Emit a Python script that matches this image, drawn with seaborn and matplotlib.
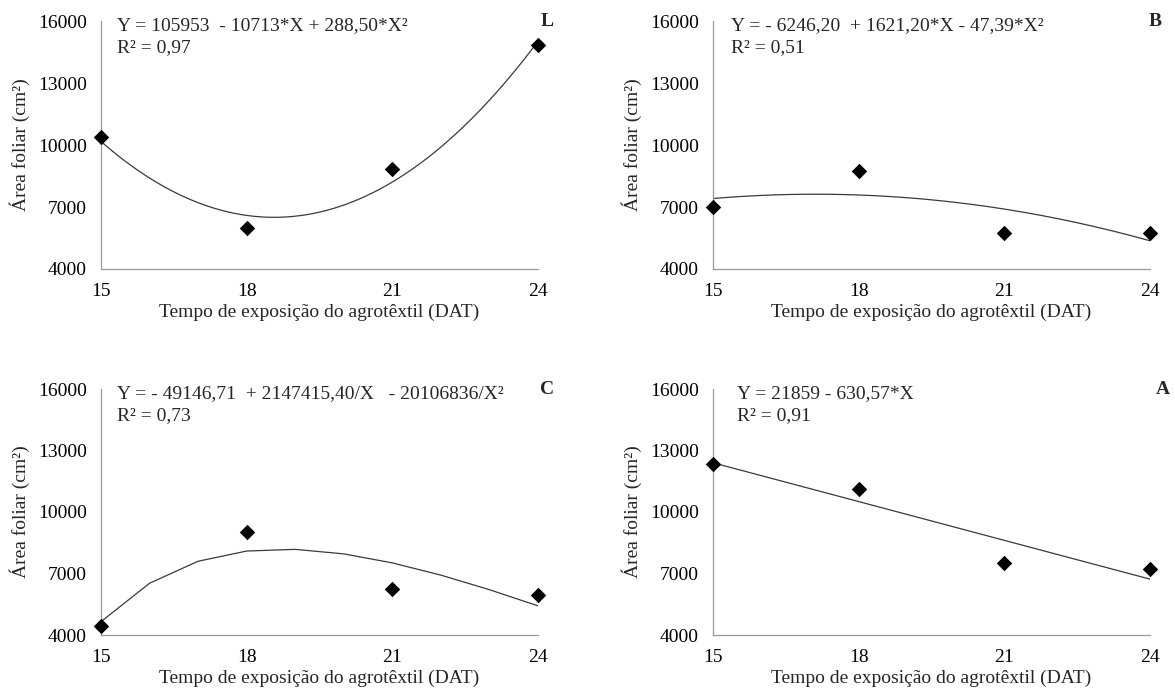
import numpy as np
import pandas as pd
import matplotlib
matplotlib.use("Agg")
import matplotlib.pyplot as plt
import seaborn as sns

# Days of exposure to the agrotextile cover
dat = [15, 18, 21, 24]

# Leaf area (cm²) per treatment
area_L = [10390, 5970, 8830, 14830]
area_B = [7010, 8740, 5760, 5760]
area_C = [4440, 9010, 6220, 5970]
area_A = [12340, 11120, 7530, 7220]

# Fitted regression coefficients
coef_L = [105953, -10713, 288.50]           # b0 + b1*X + b2*X²
coef_B = [-6246.20, 1621.20, -47.39]        # b0 + b1*X + b2*X²
coef_C = [-49146.71, 2147415.40, -20106836]  # b0 + b1/X + b2/X²
coef_A = [21859, -630.57]                   # b0 + b1*X

eq_L = ["Y = 105953  - 10713*X + 288,50*X²", "R² = 0,97"]
eq_B = ["Y = - 6246,20  + 1621,20*X - 47,39*X²", "R² = 0,51"]
eq_C = ["Y = - 49146,71  + 2147415,40/X   - 20106836/X²", "R² = 0,73"]
eq_A = ["Y = 21859 - 630,57*X", "R² = 0,91"]

x_ticks = [15, 18, 21, 24]
y_ticks = [4000, 7000, 10000, 13000, 16000]
x_label = "Tempo de exposição do agrotêxtil (DAT)"
y_label = "Área foliar (cm²)"


def quad(c, x):
    return c[0] + c[1] * x + c[2] * x ** 2


def inv_quad(c, x):
    return c[0] + c[1] / x + c[2] / x ** 2


def lin(c, x):
    return c[0] + c[1] * x


x_fine = np.linspace(15, 24, 200)
x_int = np.arange(15, 25)

panels = [
    dict(tag="L", pts=area_L, cx=x_fine, cy=quad(coef_L, x_fine), eq=eq_L,
         rect=[101, 21, 437, 248], eqdx=16, tagdx=9),
    dict(tag="B", pts=area_B, cx=x_fine, cy=quad(coef_B, x_fine), eq=eq_B,
         rect=[713, 21, 437, 248], eqdx=18, tagdx=5),
    dict(tag="C", pts=area_C, cx=x_int, cy=inv_quad(coef_C, x_int), eq=eq_C,
         rect=[101, 389, 437, 246], eqdx=16, tagdx=9),
    dict(tag="A", pts=area_A, cx=x_fine, cy=lin(coef_A, x_fine), eq=eq_A,
         rect=[713, 389, 437, 246], eqdx=24, tagdx=13),
]

sns.set_style("white")
plt.rcParams["font.family"] = ["Liberation Serif", "DejaVu Serif"]

W, H = 1175, 698
fig = plt.figure(figsize=(W / 100, H / 100), dpi=100)
fig.patch.set_facecolor("white")

spine_col = "#9a9a9a"
fs = 14

for p in panels:
    l, t, w, h = p["rect"]
    ax = fig.add_axes([l / W, (H - t - h) / H, w / W, h / H])

    curve = pd.DataFrame({"x": p["cx"], "y": p["cy"]})
    sns.lineplot(data=curve, x="x", y="y", ax=ax, color="#3a3a3a",
                 linewidth=0.9, estimator=None, sort=False)

    pts = pd.DataFrame({"x": dat, "y": p["pts"]})
    sns.scatterplot(data=pts, x="x", y="y", ax=ax, marker="D", s=62,
                    color="black", edgecolor="black", linewidth=0,
                    clip_on=False, zorder=5)

    ax.set_xlim(15, 24)
    ax.set_ylim(4000, 16000)
    ax.set_xticks(x_ticks)
    ax.set_yticks(y_ticks)
    ax.set_xticklabels([str(v) for v in x_ticks])
    ax.set_yticklabels([str(v) for v in y_ticks])
    ax.tick_params(axis="both", direction="out", length=4, width=0.9,
                   color=spine_col, labelsize=fs, labelcolor="black")
    ax.tick_params(axis="y", pad=6)
    ax.tick_params(axis="x", pad=6)

    for side in ("top", "right"):
        ax.spines[side].set_visible(False)
    for side in ("left", "bottom"):
        ax.spines[side].set_color(spine_col)
        ax.spines[side].set_linewidth(0.9)

    ax.set_xlabel(x_label, fontsize=fs, labelpad=3)
    ax.set_ylabel(y_label, fontsize=fs, labelpad=6)

    ax.text(p["eqdx"] / w, 1 - 5 / h, p["eq"][0], transform=ax.transAxes,
            ha="left", va="center", fontsize=fs)
    ax.text(p["eqdx"] / w, 1 - 27 / h, p["eq"][1], transform=ax.transAxes,
            ha="left", va="center", fontsize=fs)
    ax.text(1 + p["tagdx"] / w, 1.0, p["tag"], transform=ax.transAxes,
            ha="center", va="center", fontsize=fs, fontweight="bold")

fig.savefig("out.png", dpi=100, facecolor="white")
